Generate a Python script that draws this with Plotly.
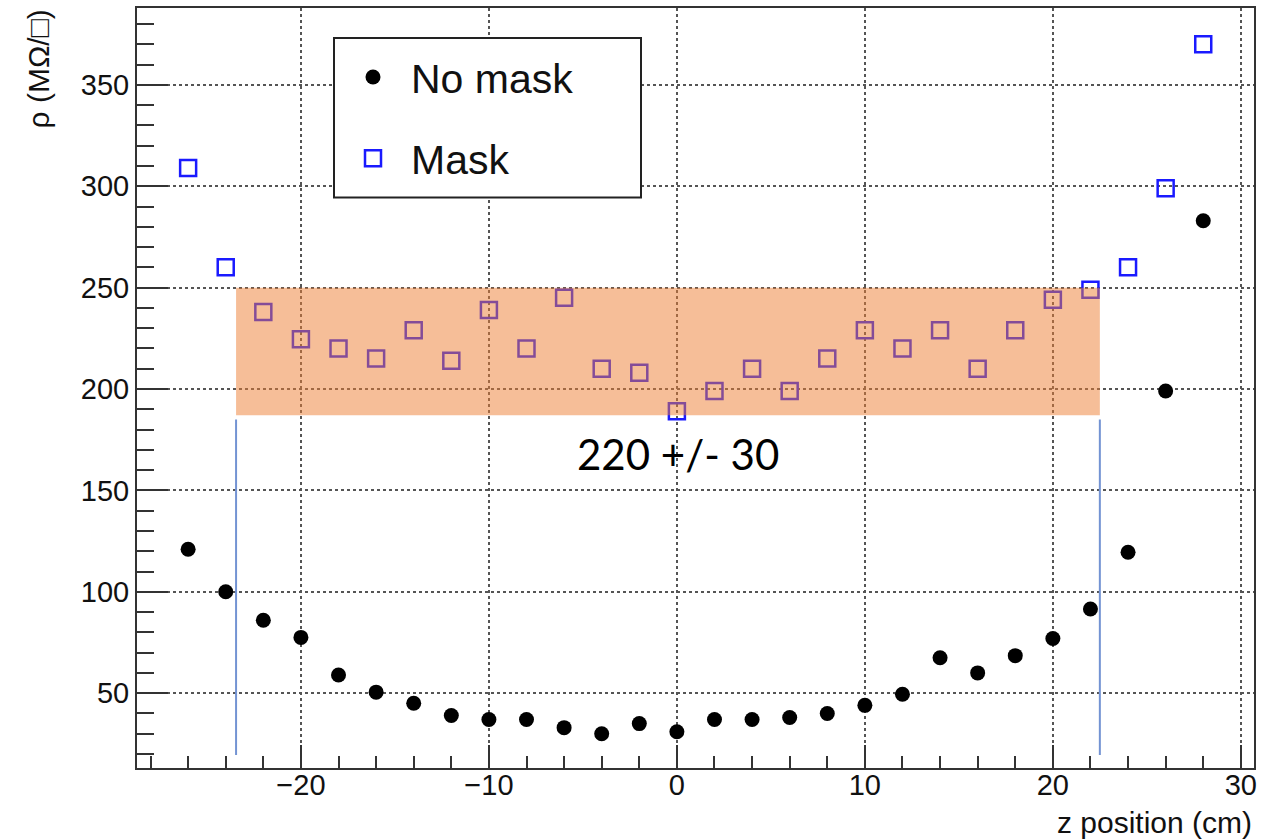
import plotly.graph_objects as go

# ---- data ----
z_pos = [-26, -24, -22, -20, -18, -16, -14, -12, -10, -8, -6, -4, -2, 0,
         2, 4, 6, 8, 10, 12, 14, 16, 18, 20, 22, 24, 26, 28]
rho_no_mask = [121, 100, 86, 77.5, 59, 50.5, 45, 39, 37, 37, 33, 30, 35, 31,
               37, 37, 38, 40, 44, 49.5, 67.5, 60, 68.5, 77, 91.5, 119.5, 199, 283]
rho_mask = [309, 260, 238, 224.5, 220, 215, 229, 214, 239, 220, 245, 210, 208, 189,
            199, 210, 199, 215, 229, 220, 229, 210, 229, 244, 249, 260, 299, 370]
series_names = ["No mask", "Mask"]
band_label = "220 +/- 30"
band_y = [187, 250]
band_x = [-23.45, 22.5]
marker_lines_y = [19.5, 185]
x_title = "z position (cm)"
y_title = "ρ (MΩ/□)"

W, H = 1278, 840
ML, MR, MT, MB = 137, 24, 6, 72
PW, PH = W - ML - MR, H - MT - MB

def px_x(p):
    return (p - ML) / PW

def px_y(p):
    return (H - MB - p) / PH

fig = go.Figure()
fig.add_trace(go.Scatter(
    x=z_pos, y=rho_no_mask, mode="markers", name=series_names[0],
    legendgroup="a",
    marker=dict(symbol="circle", size=15, color="black"),
))
fig.add_trace(go.Scatter(
    x=z_pos, y=rho_mask, mode="markers", name=series_names[1],
    legendgroup="b",
    marker=dict(symbol="square-open", size=16, color="#1a1aff",
                line=dict(width=2.5, color="#1a1aff")),
))

# legend box
fig.add_shape(type="rect", xref="paper", yref="paper",
              x0=px_x(334), x1=px_x(641), y0=px_y(196), y1=px_y(36),
              fillcolor="white", line=dict(color="#222", width=2), layer="above")

# orange band
fig.add_shape(type="rect", xref="x", yref="y",
              x0=band_x[0], x1=band_x[1], y0=band_y[0], y1=band_y[1],
              fillcolor="rgba(237,125,49,0.5)", line=dict(width=0), layer="above")
# blue vertical lines
for xv in band_x:
    fig.add_shape(type="line", xref="x", yref="y",
                  x0=xv, x1=xv, y0=marker_lines_y[0], y1=marker_lines_y[1],
                  line=dict(color="#7393d3", width=2), layer="above")

fig.add_annotation(x=sum(band_x) / 2 + 0.55, y=168, xref="x", yref="y",
                   text=band_label, showarrow=False,
                   font=dict(family="Lato", size=42, color="black"))

fig.add_annotation(x=1, y=px_y(823), xref="paper", yref="paper",
                   xanchor="right", yanchor="middle", text=x_title, showarrow=False,
                   font=dict(family="Liberation Sans", size=30, color="#111"))
fig.add_annotation(x=px_x(38), y=px_y(6), xref="paper", yref="paper",
                   xanchor="center", yanchor="top", text=y_title, showarrow=False,
                   textangle=-90,
                   font=dict(family="Liberation Sans", size=30, color="#111"))

axis_common = dict(
    showline=True, mirror=True, linecolor="#333", linewidth=2,
    ticks="inside", tickcolor="#333", tickwidth=2,
    showgrid=True, gridcolor="#555", gridwidth=1.5, griddash="dot",
    zeroline=False,
    tickfont=dict(family="Liberation Sans", size=29, color="#111"),
)

fig.update_xaxes(range=[-28.72, 30.7], dtick=10, tick0=0, ticklen=23,
                 ticklabelstandoff=-10,
                 minor=dict(dtick=2, tick0=0, ticklen=12, ticks="inside",
                            tickcolor="#333", tickwidth=2, showgrid=False),
                 **axis_common)
fig.update_yaxes(range=[13.1, 387.9], dtick=50, tick0=0, ticklen=31,
                 minor=dict(dtick=10, tick0=0, ticklen=17, ticks="inside",
                            tickcolor="#333", tickwidth=2, showgrid=False),
                 **axis_common)

fig.update_layout(
    width=W, height=H,
    margin=dict(l=ML, r=MR, t=MT, b=MB, pad=0),
    paper_bgcolor="white", plot_bgcolor="white",
    showlegend=True,
    legend=dict(x=px_x(335), y=px_y(42), xanchor="left", yanchor="top",
                bgcolor="rgba(0,0,0,0)", borderwidth=0,
                tracegroupgap=25, itemwidth=66,
                font=dict(family="Liberation Sans", size=41, color="#111")),
)

fig.write_html("out.html")
